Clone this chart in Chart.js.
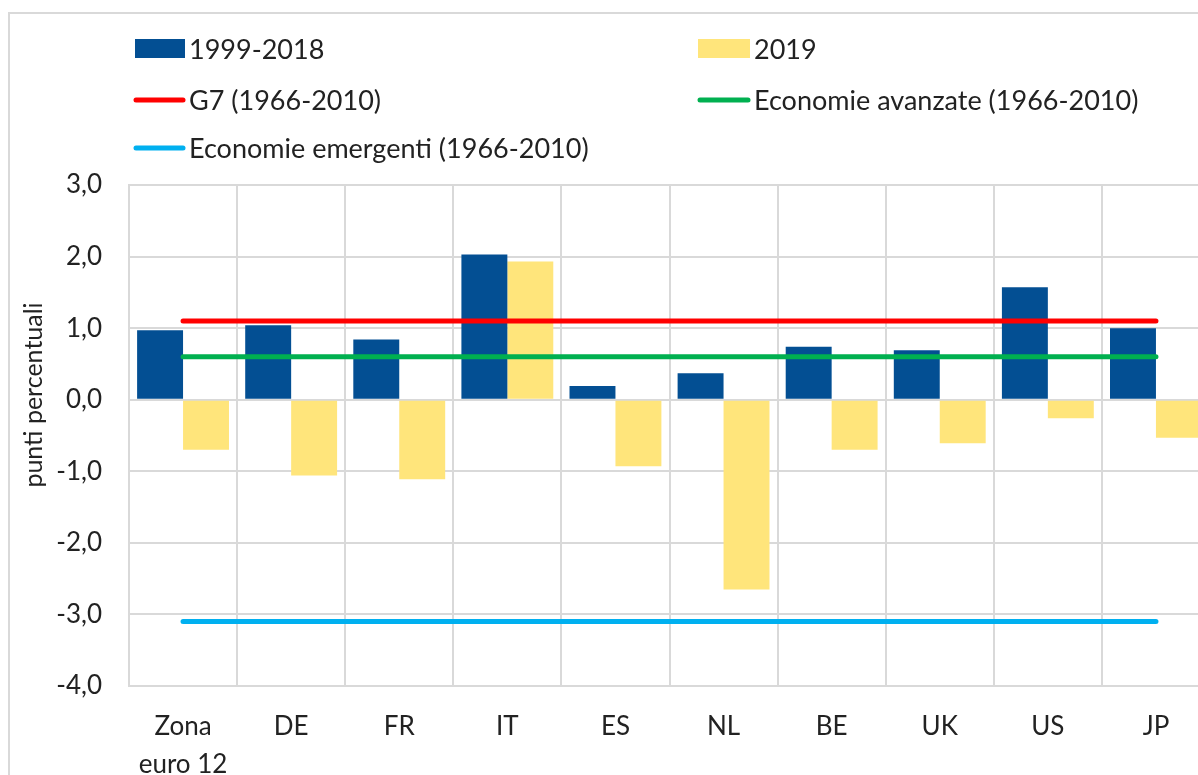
<!DOCTYPE html>
<html>
<head>
<meta charset="utf-8">
<script src="https://cdn.jsdelivr.net/npm/chart.js@4.4.1/dist/chart.umd.min.js"></script>
<style>
  html, body { margin: 0; padding: 0; overflow: hidden; background: #fff; }
  #wrap { width: 1215px; height: 775px; }
</style>
</head>
<body>
<div id="wrap"><canvas id="chart"></canvas></div>
<script>
// data
const categories = [['Zona', 'euro 12'], 'DE', 'FR', 'IT', 'ES', 'NL', 'BE', 'UK', 'US', 'JP'];
const period1999 = [0.97, 1.04, 0.84, 2.03, 0.19, 0.37, 0.74, 0.69, 1.57, 1.00];
const year2019 = [-0.70, -1.06, -1.11, 1.93, -0.93, -2.65, -0.70, -0.61, -0.26, -0.53];
const g7 = [1.1, 1.1, 1.1, 1.1, 1.1, 1.1, 1.1, 1.1, 1.1, 1.1];
const avanzate = [0.6, 0.6, 0.6, 0.6, 0.6, 0.6, 0.6, 0.6, 0.6, 0.6];
const emergenti = [-3.1, -3.1, -3.1, -3.1, -3.1, -3.1, -3.1, -3.1, -3.1, -3.1];
const yTicks = [-4, -3, -2, -1, 0, 1, 2, 3];

const FONT = 'Lato';
const TEXT = '#222';
const GRID = '#d9d9d9';

// two-column legend like the Excel one, plus frame and axis title
const extras = {
    id: 'extras',
    beforeDraw(chart) {
        const ctx = chart.ctx;
        ctx.save();
        ctx.strokeStyle = GRID;
        ctx.lineWidth = 2;
        ctx.beginPath();
        ctx.moveTo(9, 775);
        ctx.lineTo(9, 13);
        ctx.lineTo(1215, 13);
        ctx.stroke();
        ctx.restore();
    },
    afterDraw(chart) {
        const ctx = chart.ctx;
        const slots = [[135, 49, 50], [698, 49, 52], [134, 100, 51], [698, 100, 52], [134, 148, 51]];
        ctx.save();
        ctx.font = '27px ' + FONT;
        ctx.textBaseline = 'middle';
        chart.data.datasets.forEach((ds, i) => {
            const [x, y, w] = slots[i];
            if (ds.type === 'line') {
                ctx.strokeStyle = ds.borderColor;
                ctx.lineWidth = 5;
                ctx.lineCap = 'round';
                ctx.beginPath();
                ctx.moveTo(x + 2, y);
                ctx.lineTo(x + w - 2, y);
                ctx.stroke();
            } else {
                ctx.fillStyle = ds.backgroundColor;
                ctx.fillRect(x, y - 10, w, 19);
            }
            ctx.fillStyle = TEXT;
            ctx.fillText(ds.label, x + w + 4, y + 1);
        });
        // y axis title
        ctx.translate(34, 395);
        ctx.rotate(-Math.PI / 2);
        ctx.textAlign = 'center';
        ctx.font = '25px ' + FONT;
        ctx.fillText('punti percentuali', 0, 0);
        ctx.restore();
    }
};

const ctx = document.getElementById('chart').getContext('2d');
const chart = new Chart(ctx, {
    data: {
        labels: categories,
        datasets: [
            { type: 'bar', label: '1999-2018', data: period1999, backgroundColor: '#034f93', order: 2 },
            { type: 'bar', label: '2019', data: year2019, backgroundColor: '#ffe57b', order: 2 },
            { type: 'line', label: 'G7 (1966-2010)', data: g7, borderColor: '#ff0000', borderWidth: 5, borderCapStyle: 'round', pointRadius: 0, order: 1 },
            { type: 'line', label: 'Economie avanzate (1966-2010)', data: avanzate, borderColor: '#00b050', borderWidth: 5, borderCapStyle: 'round', pointRadius: 0, order: 1 },
            { type: 'line', label: 'Economie emergenti (1966-2010)', data: emergenti, borderColor: '#00b0f0', borderWidth: 5, borderCapStyle: 'round', pointRadius: 0, order: 1 }
        ]
    },
    options: {
        responsive: true,
        maintainAspectRatio: false,
        animation: false,
        datasets: {
            bar: { categoryPercentage: 0.85, barPercentage: 1.0, borderWidth: 0 }
        },
        layout: { padding: { top: 185, right: 5, left: 0, bottom: 0 } },
        plugins: {
            legend: { display: false },
            tooltip: { enabled: false }
        },
        scales: {
            x: {
                offset: true,
                grid: { offset: true, color: GRID, lineWidth: 2, drawTicks: false },
                border: { color: GRID, width: 2 },
                ticks: { color: TEXT, font: { family: FONT, size: 26, lineHeight: 1.45 }, padding: 22, maxRotation: 0 },
                afterFit(scale) { scale.height = 89; }
            },
            y: {
                min: -4,
                max: 3,
                afterBuildTicks(scale) { scale.ticks = yTicks.map(v => ({ value: v })); },
                grid: { color: GRID, lineWidth: 2, drawTicks: false },
                border: { color: GRID, width: 2 },
                ticks: {
                    color: TEXT,
                    font: { family: FONT, size: 26 },
                    padding: 27,
                    callback: v => v.toFixed(1).replace('.', ',')
                },
                afterFit(scale) { scale.width = 129; }
            }
        }
    },
    plugins: [extras]
});
</script>
</body>
</html>
